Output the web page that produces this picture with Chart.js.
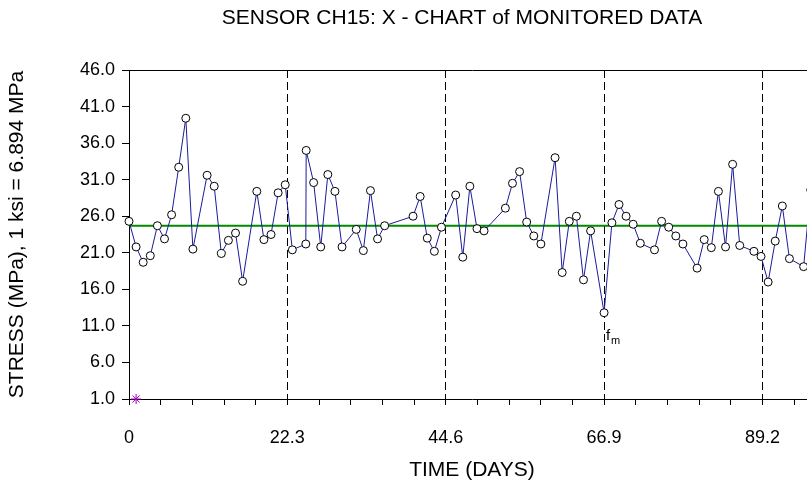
<!DOCTYPE html>
<html>
<head>
<meta charset="utf-8">
<script src="https://cdn.jsdelivr.net/npm/chart.js@4.4.1/dist/chart.umd.min.js"></script>
<style>
  html, body { margin: 0; padding: 0; background: #fff; overflow: hidden; }
  #wrap { width: 807px; height: 486px; overflow: hidden; }
</style>
</head>
<body>
<div id="wrap"><canvas id="xChart" width="924" height="486"></canvas></div>
<script>
// monitored readings (days, MPa)
const days = [0, 1, 2, 3, 4, 5, 6, 7, 8, 9, 11, 12, 13, 14, 15, 16, 18, 19, 20, 21, 22,
  23, 24.9, 24.95, 26, 27, 28, 29, 30, 32, 33, 34, 35, 36, 40, 41, 42, 43, 44,
  46, 47, 48, 49, 50, 53, 54, 55, 56, 57, 58, 60, 61, 62, 63, 64, 65,
  66.9, 68, 69, 70, 71, 72, 74, 75, 76, 77, 78, 80, 81, 82, 83, 84, 85, 86,
  88, 89, 90, 91, 92, 93, 95, 96];
const stress = [25.3, 21.8, 19.7, 20.6, 24.7, 22.9, 26.2, 32.7, 39.4, 21.5, 31.6, 30.1, 20.9, 22.7, 23.7, 17.1, 29.4, 22.8, 23.5, 29.2, 30.3,
  21.4, 22.2, 35.0, 30.6, 21.8, 31.7, 29.4, 21.8, 24.2, 21.3, 29.5, 22.9, 24.7, 26.0, 28.7, 23.0, 21.2, 24.5,
  28.9, 20.4, 30.1, 24.3, 24.0, 27.1, 30.5, 32.1, 25.2, 23.3, 22.2, 34.0, 18.3, 25.3, 26.0, 17.3, 24.0,
  12.8, 25.1, 27.6, 26.0, 24.9, 22.3, 21.4, 25.3, 24.5, 23.3, 22.2, 18.9, 22.8, 21.7, 29.4, 21.8, 33.1, 22.0,
  21.2, 20.5, 17.0, 22.6, 27.4, 20.2, 19.1, 29.6];

const meanStress = 24.7;
const markerDays = [1];
const markerValues = [1.0];

const xTickLabels = ["0", "22.3", "44.6", "66.9", "89.2"];
const yTicks = [1, 6, 11, 16, 21, 26, 31, 36, 41, 46];

const xMajorStep = 22.3;
const xMinorPerMajor = 5;
const xMax = 96.6;

const fontFamily = "'Liberation Sans', Arial, sans-serif";
const chartTitle = "SENSOR CH15: X - CHART of MONITORED DATA";

// titre + label f_m sous la mesure minimale
const annotations = {
    id: "annotations",
    afterDatasetsDraw(chart) {
        const ctx = chart.ctx;
        const meta = chart.getDatasetMeta(0);
        let idx = 0;
        stress.forEach((v, i) => { if (v < stress[idx]) idx = i; });
        const pt = meta.data[idx];

        ctx.save();
        ctx.fillStyle = "#000";
        ctx.textBaseline = "alphabetic";
        ctx.font = "15px " + fontFamily;
        ctx.fillText("f", pt.x + 2, pt.y + 27);
        ctx.font = "11px " + fontFamily;
        ctx.fillText("m", pt.x + 7, pt.y + 31);

        ctx.font = "21px " + fontFamily;
        ctx.textAlign = "center";
        ctx.textBaseline = "middle";
        ctx.fillText(chartTitle, 462, 18);
        ctx.restore();
    }
};

new Chart(document.getElementById("xChart"), {
    type: "line",
    data: {
        datasets: [
            {
                data: days.map((d, i) => ({ x: d, y: stress[i] })),
                borderColor: "#1a1a9c",
                borderWidth: 1,
                pointRadius: 4,
                pointBackgroundColor: "#fff",
                pointBorderColor: "#000",
                pointBorderWidth: 1,
                tension: 0,
                clip: false
            },
            {
                data: [{ x: 0, y: meanStress }, { x: xMax, y: meanStress }],
                borderColor: "#008a00",
                borderWidth: 2,
                pointRadius: 0
            },
            {
                data: markerDays.map((d, i) => ({ x: d, y: markerValues[i] })),
                showLine: false,
                pointStyle: "star",
                pointRadius: 5,
                pointBorderColor: "#a000c0",
                pointBorderWidth: 1,
                clip: false
            }
        ]
    },
    options: {
        responsive: false,
        animation: false,
        layout: { padding: { left: 0, right: 924 - 815, top: 70, bottom: 0 } },
        plugins: {
            legend: { display: false },
            tooltip: { enabled: false },
            title: { display: false }
        },
        scales: {
            x: {
                type: "linear",
                min: 0,
                max: xMax,
                afterBuildTicks: (scale) => {
                    const ticks = [];
                    for (let i = 0; i * xMajorStep / xMinorPerMajor <= xMax; i++) {
                        ticks.push({ value: i * xMajorStep / xMinorPerMajor });
                    }
                    scale.ticks = ticks;
                },
                afterFit: (scale) => { scale.height = 87; },
                ticks: {
                    autoSkip: false,
                    maxRotation: 0,
                    color: "#000",
                    padding: 22,
                    font: { family: fontFamily, size: 18 },
                    callback: (v, i) => (i % xMinorPerMajor === 0 ? xTickLabels[i / xMinorPerMajor] : "")
                },
                grid: {
                    color: (c) => (c.index % xMinorPerMajor === 0 && c.index > 0 ? "#000" : "rgba(0,0,0,0)"),
                    tickColor: "#000",
                    tickLength: 6,
                    lineWidth: 1
                },
                border: { color: "#000", width: 1, dash: [8, 4] },
                title: {
                    display: true,
                    text: "TIME (DAYS)",
                    color: "#000",
                    font: { family: fontFamily, size: 21 },
                    padding: { top: 0, bottom: 3 }
                }
            },
            y: {
                min: 1,
                max: 46,
                afterBuildTicks: (scale) => { scale.ticks = yTicks.map(v => ({ value: v })); },
                afterFit: (scale) => { scale.width = 129; },
                ticks: {
                    color: "#000",
                    padding: 7,
                    font: { family: fontFamily, size: 18 },
                    callback: (v) => v.toFixed(1)
                },
                grid: {
                    color: (c) => (c.tick && c.tick.value === 46 ? "#000" : "rgba(0,0,0,0)"),
                    tickColor: "#000",
                    tickLength: 7
                },
                border: { color: "#000", width: 1 },
                title: {
                    display: true,
                    text: "STRESS (MPa), 1 ksi = 6.894 MPa",
                    color: "#000",
                    font: { family: fontFamily, size: 21 },
                    padding: { top: 5, bottom: 0 }
                }
            }
        }
    },
    plugins: [annotations]
});
</script>
</body>
</html>
